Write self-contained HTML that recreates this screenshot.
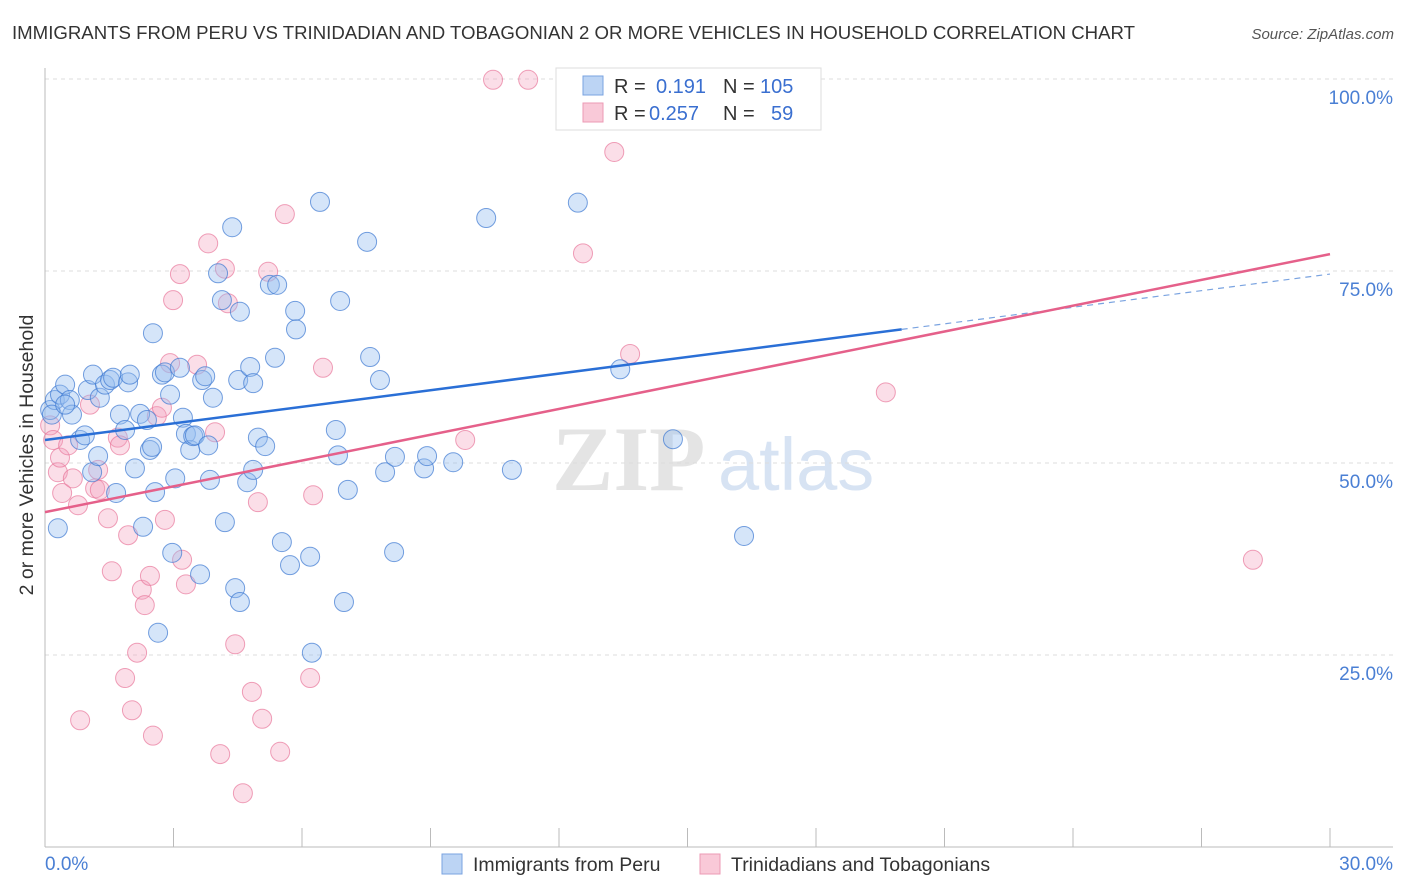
<!DOCTYPE html>
<html><head><meta charset="utf-8">
<style>
body{margin:0;background:#fff;font-family:"Liberation Sans",sans-serif;}
#wrap{position:relative;width:1406px;height:892px;overflow:hidden;}
</style></head>
<body>
<div id="wrap">
<svg id="chart" width="1406" height="892">
<text x="12" y="39" font-size="18" fill="#333" textLength="1123" lengthAdjust="spacingAndGlyphs">IMMIGRANTS FROM PERU VS TRINIDADIAN AND TOBAGONIAN 2 OR MORE VEHICLES IN HOUSEHOLD CORRELATION CHART</text>
<text x="1394" y="39" font-size="15" fill="#555" font-style="italic" text-anchor="end">Source: ZipAtlas.com</text>
<text transform="translate(33,455) rotate(-90)" font-size="19.5" fill="#333" text-anchor="middle">2 or more Vehicles in Household</text>
<g>
<text x="552" y="490" font-size="92" fill="#e4e4e4" font-family="Liberation Serif,serif" font-weight="bold">ZIP</text>
<text x="718" y="490" font-size="74" fill="#d7e3f3" font-family="Liberation Sans,sans-serif">atlas</text>
</g>
<g id="grid"></g><g id="axes"></g><g id="pink"></g><g id="blue"></g><g id="lines"></g>
<g>
<rect x="556" y="68" width="265" height="62" fill="#fff" stroke="#ddd"/>
<rect x="583" y="76" width="20" height="19" fill="#bcd4f4" stroke="#7aa3e0"/>
<rect x="583" y="103" width="20" height="19" fill="#f9c9d8" stroke="#ec9ab4"/>
<text x="614" y="93" font-size="20" fill="#333">R =</text>
<text x="656" y="93" font-size="20" fill="#3a6fd0">0.191</text>
<text x="723" y="93" font-size="20" fill="#333">N =</text>
<text x="760" y="93" font-size="20" fill="#3a6fd0">105</text>
<text x="614" y="120" font-size="20" fill="#333">R =</text>
<text x="649" y="120" font-size="20" fill="#3a6fd0">0.257</text>
<text x="723" y="120" font-size="20" fill="#333">N =</text>
<text x="771" y="120" font-size="20" fill="#3a6fd0">59</text>
</g>
<g>
<rect x="442" y="854" width="20" height="20" fill="#bcd4f4" stroke="#7aa3e0"/>
<text x="473" y="871" font-size="19.5" fill="#333">Immigrants from Peru</text>
<rect x="700" y="854" width="20" height="20" fill="#f9c9d8" stroke="#ec9ab4"/>
<text x="731" y="871" font-size="19.5" fill="#333">Trinidadians and Tobagonians</text>
</g>
</svg>
</div>
<script>
const xTicks=[0,3,6,9,12,15,18,21,24,27,30];
const yTicks=[25,50,75,100];
const yTickLabels=["25.0%","50.0%","75.0%","100.0%"];
const blueX=[0.12,0.23,0.35,0.16,0.47,0.58,0.63,0.47,0.30,0.82,0.93,1.00,1.12,1.28,1.10,1.24,1.40,1.52,1.59,1.66,1.75,1.87,1.94,1.98,2.10,2.22,2.29,2.38,2.45,2.50,2.57,2.52,2.64,2.73,2.80,2.92,3.04,2.97,3.15,3.22,3.29,3.39,3.46,3.50,3.62,3.67,3.74,3.81,3.85,3.92,4.04,4.13,4.20,4.37,4.44,4.51,4.55,4.55,4.72,4.79,4.86,4.86,4.97,5.14,5.25,5.42,5.37,5.53,5.72,5.84,5.86,6.19,6.23,6.42,6.79,6.84,6.89,6.98,7.07,7.52,7.59,7.82,7.94,8.15,8.17,8.85,8.92,9.53,10.30,10.90,12.33,12.44,13.24,13.43,14.66,16.32];
const blueY=[56.9,58.2,58.9,56.3,60.2,58.2,56.3,57.6,41.5,53.0,53.6,59.5,61.5,58.5,48.8,50.9,60.2,60.8,61.1,46.1,56.3,54.3,60.5,61.5,49.3,56.4,41.7,55.6,51.7,52.1,46.2,66.9,27.9,61.5,61.8,58.9,48.0,38.3,62.4,55.9,53.8,51.7,53.5,53.6,35.5,60.8,61.3,52.3,47.8,58.5,74.7,71.2,42.3,80.7,33.7,60.8,69.7,31.9,47.5,62.5,60.4,49.1,53.3,52.2,73.2,73.2,63.7,39.7,36.7,69.8,67.4,37.8,25.3,84.0,54.3,51.0,71.1,31.9,46.5,78.8,63.8,60.8,48.8,38.4,50.8,49.3,50.9,50.1,81.9,49.1,99.9,83.9,99.6,62.2,53.1,40.5];
const pinkX=[0.12,0.19,0.30,0.35,0.40,0.54,0.65,0.77,0.82,1.05,1.17,1.24,1.28,1.47,1.56,1.70,1.75,1.87,1.94,2.03,2.15,2.26,2.33,2.45,2.52,2.61,2.73,2.80,2.92,2.99,3.15,3.20,3.29,3.55,3.81,3.97,4.09,4.20,4.27,4.44,4.62,4.83,4.97,5.07,5.21,5.49,5.60,6.19,6.26,6.49,9.81,10.46,11.28,12.56,13.29,13.66,19.63,28.20];
const pinkY=[54.9,53.0,48.8,50.7,46.1,52.3,48.0,44.5,16.5,57.6,46.7,49.1,46.5,42.8,35.9,53.3,52.3,22.0,40.6,17.8,25.3,33.5,31.5,35.3,14.5,56.1,57.2,42.6,63.0,71.2,74.6,37.4,34.2,62.8,78.6,54.0,12.1,75.3,70.8,26.4,7.0,20.2,44.9,16.7,74.9,12.4,82.4,22.0,45.8,62.4,53.0,99.9,99.9,77.3,90.5,64.2,59.2,37.4];
const blueTrend=[53.0,0.72];
const pinkTrend=[43.6,1.12];
const blueSolidEnd=20.0;

const NS="http://www.w3.org/2000/svg";
const X0=45,X1=1330,Y0=847,Y100=79;
function sx(v){return X0+(v/30)*(X1-X0);}
function sy(v){return Y0-(v/100)*(Y0-Y100);}
function mk(tag,attrs,parent){const e=document.createElementNS(NS,tag);for(const k in attrs)e.setAttribute(k,attrs[k]);parent.appendChild(e);return e;}
const grid=document.getElementById('grid'),axes=document.getElementById('axes');
yTicks.forEach((t,i)=>{
  const l=mk('line',{x1:X0,x2:1393,y1:sy(t),y2:sy(t),stroke:'#ddd','stroke-dasharray':'4,4'},grid);
  
  
  const tx=mk('text',{x:1393,y:sy(t)+25,'font-size':19,fill:'#4a7fd4','text-anchor':'end'},axes);
  tx.textContent=yTickLabels[i];
  
  
});
const ya=mk('line',{x1:X0,x2:X0,y1:68,y2:Y0,stroke:'#bbb'},axes);


const xa=mk('line',{x1:X0,x2:1393,y1:Y0,y2:Y0,stroke:'#bbb'},axes);


xTicks.forEach(t=>{
  const l=mk('line',{x1:sx(t),x2:sx(t),y1:828,y2:Y0,stroke:'#bbb'},axes);
  
  
});
const xl0=mk('text',{x:45,y:870,'font-size':19,fill:'#4a7fd4'},axes);xl0.textContent='0.0%';


const xl1=mk('text',{x:1393,y:870,'font-size':19,fill:'#4a7fd4','text-anchor':'end'},axes);xl1.textContent='30.0%';



const pg=document.getElementById('pink'),bg=document.getElementById('blue');
pinkX.forEach((v,i)=>{
  const c=mk('circle',{cx:sx(v),cy:sy(pinkY[i]),r:9.5,fill:'rgba(244,160,188,0.35)',stroke:'rgba(232,120,155,0.7)','stroke-width':1},pg);
  
  
});
blueX.forEach((v,i)=>{
  const c=mk('circle',{cx:sx(v),cy:sy(blueY[i]),r:9.5,fill:'rgba(150,190,240,0.4)',stroke:'rgba(60,120,210,0.7)','stroke-width':1},bg);
  
  
});
const lg=document.getElementById('lines');
const bl=mk('line',{x1:sx(0),y1:sy(blueTrend[0]),x2:sx(blueSolidEnd),y2:sy(blueTrend[0]+blueTrend[1]*blueSolidEnd),stroke:'#2a6fd6','stroke-width':2.5},lg);


const bd=mk('line',{x1:sx(blueSolidEnd),y1:sy(blueTrend[0]+blueTrend[1]*blueSolidEnd),x2:sx(30),y2:sy(blueTrend[0]+blueTrend[1]*30),stroke:'#7aa3e0','stroke-width':1.2,'stroke-dasharray':'6,5'},lg);


const pl=mk('line',{x1:sx(0),y1:sy(pinkTrend[0]),x2:sx(30),y2:sy(pinkTrend[0]+pinkTrend[1]*30),stroke:'#e5608a','stroke-width':2.5},lg);


</script>
</body></html>
